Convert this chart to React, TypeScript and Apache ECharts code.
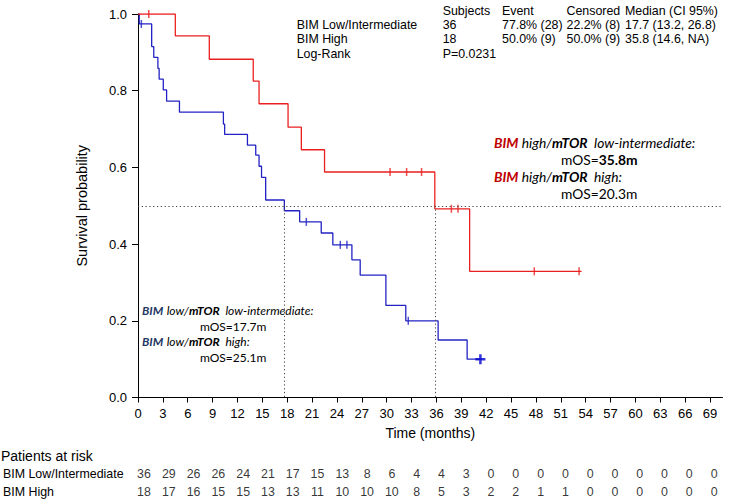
import React, { useEffect, useRef } from 'react';
import * as echarts from 'echarts';

// ---- data ----
const timeTicks = [0, 3, 6, 9, 12, 15, 18, 21, 24, 27, 30, 33, 36, 39, 42, 45, 48, 51, 54, 57, 60, 63, 66, 69];

// BIM Low/Intermediate (blue)
const blueTimes = [0, 0.15, 1.65, 1.9, 2.4, 2.55, 3.05, 3.45, 5.0, 10.3, 10.45, 13.2, 14.2, 14.6, 14.9, 15.4, 17.65, 19.5, 22.1, 23.5, 25.8, 26.8, 29.9, 32.3, 36.2, 39.7, 41.5];
const blueSurv = [1.0, 0.974, 0.915, 0.887, 0.858, 0.83, 0.802, 0.773, 0.744, 0.713, 0.686, 0.658, 0.632, 0.603, 0.574, 0.515, 0.487, 0.458, 0.429, 0.398, 0.359, 0.319, 0.24, 0.2, 0.15, 0.1, 0.1];
const blueCensor = [0.4, 20.3, 24.4, 25.2, 32.6];
const blueLastCensor = [41.3];

// BIM High (red)
const redTimes = [0, 4.5, 8.6, 13.9, 14.6, 18.1, 19.7, 22.5, 35.8, 40.0, 53.5];
const redSurv = [1.0, 0.943, 0.882, 0.825, 0.766, 0.705, 0.646, 0.588, 0.492, 0.329, 0.329];
const redCensor = [1.3, 30.4, 32.4, 34.2, 37.8, 38.6, 47.8, 53.2];

const medianLow = 17.7;
const medianHigh = 35.8;

const riskLow = [36, 29, 26, 26, 24, 21, 17, 15, 13, 8, 6, 4, 4, 3, 0, 0, 0, 0, 0, 0, 0, 0, 0, 0];
const riskHigh = [18, 17, 16, 15, 15, 13, 13, 11, 10, 10, 10, 8, 5, 3, 2, 2, 1, 1, 0, 0, 0, 0, 0, 0];
const riskRows = ['BIM High', 'BIM Low/Intermediate'];

const tableHeader = ['Subjects', 'Event', 'Censored', 'Median (CI 95%)'];
const tableRows = [
  ['BIM Low/Intermediate', '36', '77.8% (28)', '22.2% (8)', '17.7 (13.2, 26.8)'],
  ['BIM High', '18', '50.0% (9)', '50.0% (9)', '35.8 (14.6, NA)'],
  ['Log-Rank', 'P=0.0231', '', '', ''],
];

// ---- styles ----
const BLUE = '#2323c4';
const RED = '#ea2020';
const FONT = '"Liberation Sans", Arial, sans-serif';
const AFONT = 'Lato, "Open Sans", sans-serif';
const X_MAX = 70.5;
const GRID_LEFT = 138;
const GRID_RIGHT = 9.5;

function survAt(times: number[], surv: number[], t: number) {
  let s = surv[0];
  for (let i = 0; i < times.length; i++) if (times[i] <= t) s = surv[i];
  return s;
}

export default function App() {
  const ref = useRef<HTMLDivElement>(null);
  useEffect(() => {
    if (!ref.current) return;
    const chart = echarts.init(ref.current, undefined, { renderer: 'svg' });

    const colX = [296.7, 442.7, 502, 566.5, 625];
    const rowY = [25, 39.3, 54];
    const graphics: any[] = [];
    tableHeader.forEach((h, i) => {
      graphics.push({ type: 'text', x: colX[i + 1], y: 10.7, style: { text: h, font: `12.4px ${FONT}`, fill: '#000', verticalAlign: 'middle' } });
    });
    tableRows.forEach((r, ri) => {
      r.forEach((c, ci) => {
        if (!c) return;
        graphics.push({ type: 'text', x: colX[ci], y: rowY[ri], style: { text: c, font: `12.4px ${FONT}`, fill: '#000', verticalAlign: 'middle' } });
      });
    });
    graphics.push({ type: 'text', x: 1, y: 455.7, style: { text: 'Patients at risk', font: `14px ${FONT}`, fill: '#000', verticalAlign: 'middle' } });

    const richFor = (size: number, bimColor: string) => ({
      r: { fill: bimColor, fontStyle: 'italic', fontWeight: 'bold', fontSize: size, fontFamily: AFONT },
      i: { fill: '#000', fontStyle: 'italic', fontSize: size, fontFamily: AFONT },
      b: { fill: '#000', fontStyle: 'italic', fontWeight: 'bold', fontSize: size, fontFamily: AFONT },
      n: { fill: '#000', fontSize: size, fontFamily: AFONT },
      nb: { fill: '#000', fontWeight: 'bold', fontSize: size, fontFamily: AFONT },
    });
    const annot = (x: number, y: number, text: string, size: number, color: string) => ({
      type: 'text', x, y, style: { text, rich: richFor(size, color), verticalAlign: 'middle' },
    });
    const rc = '#c00000';
    graphics.push(annot(494, 142, '{r|BIM} {i|high/}{b|mTOR}{i|  low-intermediate:}', 13.8, rc));
    graphics.push(annot(561, 159, '{n|mOS=}{nb|35.8m}', 13.8, rc));
    graphics.push(annot(494, 176, '{r|BIM} {i|high/}{b|mTOR}{i|  high:}', 13.8, rc));
    graphics.push(annot(561, 193, '{n|mOS=20.3m}', 13.8, rc));
    const lc = '#1f3864';
    graphics.push(annot(142, 310, '{r|BIM} {i|low/}{b|mTOR}{i|  low-intermediate:}', 12, lc));
    graphics.push(annot(200, 326, '{n|mOS=17.7m}', 12, lc));
    graphics.push(annot(142, 341, '{r|BIM} {i|low/}{b|mTOR}{i|  high:}', 12, lc));
    graphics.push(annot(200, 357, '{n|mOS=25.1m}', 12, lc));

    const dotted = { color: '#444', width: 1, type: [1.2, 2.6] as any };
    const riskLabel = {
      show: true, position: 'inside', offset: [4, 0],
      formatter: (p: any) => String(p.value[2]),
      fontFamily: FONT, fontSize: 12.4, color: '#000',
    };

    const option: any = {
      animation: false,
      backgroundColor: '#fff',
      grid: [
        { left: GRID_LEFT, right: GRID_RIGHT, top: 14, bottom: 103.5 },
        { left: GRID_LEFT, right: GRID_RIGHT, top: 465.3, height: 36 },
      ],
      xAxis: [
        {
          type: 'value', gridIndex: 0, min: 0, max: X_MAX, interval: 3,
          name: 'Time (months)', nameLocation: 'middle', nameGap: 28,
          nameTextStyle: { fontFamily: FONT, fontSize: 14, color: '#000' },
          axisLine: { show: true, lineStyle: { color: '#000', width: 1 } },
          axisTick: { show: true, length: 5, lineStyle: { color: '#000' } },
          axisLabel: { fontFamily: FONT, fontSize: 13, color: '#000', margin: 9, showMaxLabel: false },
          splitLine: { show: false },
        },
        {
          type: 'value', gridIndex: 1, min: 0, max: X_MAX, show: false,
        },
      ],
      yAxis: [
        {
          type: 'value', gridIndex: 0, min: 0, max: 1, interval: 0.2,
          name: 'Survival probability', nameLocation: 'middle', nameGap: 49,
          nameTextStyle: { fontFamily: FONT, fontSize: 14.5, color: '#000' },
          axisLine: { show: true, lineStyle: { color: '#000', width: 1 } },
          axisTick: { show: true, length: 6, lineStyle: { color: '#000' } },
          axisLabel: { fontFamily: FONT, fontSize: 13, color: '#000', margin: 11, formatter: (v: number) => v.toFixed(1) },
          splitLine: { show: false },
        },
        {
          type: 'category', gridIndex: 1, data: riskRows,
          axisLine: { show: false }, axisTick: { show: false }, splitLine: { show: false },
          axisLabel: { align: 'left', margin: 137, fontFamily: FONT, fontSize: 12.4, color: '#000' },
        },
      ],
      series: [
        {
          type: 'line', name: 'BIM Low/Intermediate', step: 'end', symbol: 'none',
          data: blueTimes.map((t, i) => [t, blueSurv[i]]),
          lineStyle: { color: BLUE, width: 1.3 },
          z: 3,
          markLine: {
            silent: true, symbol: 'none', label: { show: false },
            lineStyle: dotted,
            data: [
              { yAxis: 0.5 },
              [{ coord: [medianLow, 0.5] }, { coord: [medianLow, 0] }],
              [{ coord: [medianHigh, 0.5] }, { coord: [medianHigh, 0] }],
            ],
          },
        },
        {
          type: 'line', name: 'BIM High', step: 'end', symbol: 'none',
          data: redTimes.map((t, i) => [t, redSurv[i]]),
          lineStyle: { color: RED, width: 1.3 },
          z: 3,
        },
        {
          type: 'scatter', symbol: 'rect', symbolSize: [1.5, 8],
          data: blueCensor.map((t) => [t, survAt(blueTimes, blueSurv, t)]),
          itemStyle: { color: BLUE }, z: 4,
        },
        {
          type: 'scatter',
          symbol: 'path://M3.75,0h2.5v3.75h3.75v2.5h-3.75v3.75h-2.5v-3.75h-3.75v-2.5h3.75z',
          symbolSize: [10, 10],
          data: blueLastCensor.map((t) => [t, survAt(blueTimes, blueSurv, t)]),
          itemStyle: { color: '#0000d0' }, z: 4,
        },
        {
          type: 'scatter', symbol: 'rect', symbolSize: [1.5, 8],
          data: redCensor.map((t) => [t, survAt(redTimes, redSurv, t)]),
          itemStyle: { color: RED }, z: 4,
        },
        {
          type: 'scatter', xAxisIndex: 1, yAxisIndex: 1, symbolSize: 1,
          itemStyle: { color: 'rgba(0,0,0,0)' },
          data: timeTicks.map((t, i) => [t, riskRows[1], riskLow[i]]),
          label: riskLabel,
        },
        {
          type: 'scatter', xAxisIndex: 1, yAxisIndex: 1, symbolSize: 1,
          itemStyle: { color: 'rgba(0,0,0,0)' },
          data: timeTicks.map((t, i) => [t, riskRows[0], riskHigh[i]]),
          label: riskLabel,
        },
      ],
      graphic: graphics,
    };
    chart.setOption(option);
    return () => chart.dispose();
  }, []);
  return <div ref={ref} style={{ position: 'fixed', left: 0, top: 0, width: 732, height: 501, background: '#fff' }} />;
}
